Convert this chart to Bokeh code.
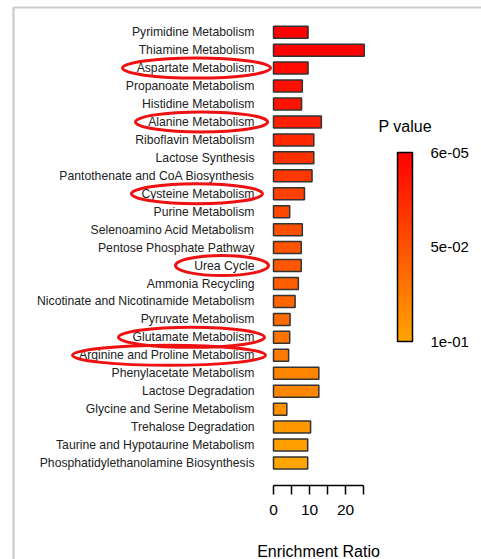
from bokeh.plotting import figure
from bokeh.models import (Range1d, FixedTicker, ColumnDataSource, LinearColorMapper,
                          ColorBar, BoxAnnotation, Label)
from bokeh.transform import transform
from bokeh.core.properties import value
from bokeh.embed import file_html
from bokeh.resources import INLINE

# ---------------- data ----------------
pathways = [
    "Pyrimidine Metabolism", "Thiamine Metabolism", "Aspartate Metabolism",
    "Propanoate Metabolism", "Histidine Metabolism", "Alanine Metabolism",
    "Riboflavin Metabolism", "Lactose Synthesis", "Pantothenate and CoA Biosynthesis",
    "Cysteine Metabolism", "Purine Metabolism", "Selenoamino Acid Metabolism",
    "Pentose Phosphate Pathway", "Urea Cycle", "Ammonia Recycling",
    "Nicotinate and Nicotinamide Metabolism", "Pyruvate Metabolism",
    "Glutamate Metabolism", "Arginine and Proline Metabolism",
    "Phenylacetate Metabolism", "Lactose Degradation", "Glycine and Serine Metabolism",
    "Trehalose Degradation", "Taurine and Hypotaurine Metabolism",
    "Phosphatidylethanolamine Biosynthesis",
]
enrichment = [9.6, 25.2, 9.6, 8.0, 7.8, 13.3, 11.2, 11.2, 10.7, 8.6, 4.5, 8.0, 7.7,
              7.7, 6.9, 6.0, 4.6, 4.5, 4.2, 12.6, 12.6, 3.7, 10.3, 9.5, 9.5]
p_values = [0.00006, 0.001, 0.006, 0.0097, 0.012, 0.019, 0.024, 0.029, 0.034, 0.039,
            0.044, 0.048, 0.051, 0.053, 0.057, 0.061, 0.065, 0.070, 0.074, 0.080,
            0.082, 0.087, 0.092, 0.096, 0.1]
highlighted = ["Aspartate Metabolism", "Alanine Metabolism", "Cysteine Metabolism",
               "Urea Cycle", "Glutamate Metabolism", "Arginine and Proline Metabolism"]
x_ticks = [0, 10, 20]
x_minor_ticks = [5, 15, 25]
x_bounds = (0, 25)
legend_ticks = [0.00006, 0.05, 0.1]
legend_labels = ["6e-05", "5e-02", "1e-01"]
p_low, p_high = 0.00006, 0.1

# ---------------- layout constants (pixels) ----------------
W, H = 481, 559
PX = 3.6          # pixels per enrichment unit
X0 = 273          # canvas x of zero
AXIS_Y = 485      # canvas y of x-axis line
ROW0 = 31.7       # canvas y of first row center
ROW_H = 17.95     # row spacing
ELLIPSE_SPANS = {  # (left, right) canvas px of highlight ellipses
    "Aspartate Metabolism": (122, 270),
    "Alanine Metabolism": (135, 267),
    "Cysteine Metabolism": (131, 262),
    "Urea Cycle": (175, 268),
    "Glutamate Metabolism": (118, 264),
    "Arginine and Proline Metabolism": (72, 265),
}

def px_x(px):
    return (px - X0) / PX

def px_y(py):
    return (py - ROW0) / ROW_H

rows = list(range(len(pathways)))
src = ColumnDataSource(dict(name=pathways, row=rows, ratio=enrichment, p=p_values))

def lerp_hex(c1, c2, t):
    r = round(c1[0] + (c2[0] - c1[0]) * t)
    g = round(c1[1] + (c2[1] - c1[1]) * t)
    b = round(c1[2] + (c2[2] - c1[2]) * t)
    return "#%02x%02x%02x" % (r, g, b)

# palette orange -> red (palette[0] at low end of mapper = 1e-01)
palette = [lerp_hex((255, 165, 0), (255, 0, 0), i / 255) for i in range(256)]
mapper = LinearColorMapper(palette=palette, low=p_high, high=p_low)

p = figure(width=W, height=H, output_backend="svg", toolbar_location=None,
           x_range=Range1d(px_x(0), px_x(W)),
           y_range=Range1d(px_y(H), px_y(0)),
           y_axis_location=None,
           min_border_left=0, min_border_right=0, min_border_top=0,
           min_border_bottom=0)
p.xgrid.visible = False
p.ygrid.visible = False
p.outline_line_color = None
p.background_fill_color = "white"
p.border_fill_color = "white"

FONT = "Liberation Sans"

# outer frame lines (image border)
p.add_layout(BoxAnnotation(left=px_x(13), top=px_y(7), right=px_x(W + 30),
                           bottom=px_y(H + 30),
                           fill_alpha=0, line_color="#555555", line_width=2.2))

# bars
p.hbar(y="row", left=0, right="ratio", height=0.67, source=src,
       fill_color=transform("p", mapper), line_color="#333333", line_width=1.5)

# category labels
p.text(x=0, y="row", text="name", source=src, x_offset=-19,
       text_align="right", text_baseline="middle",
       text_font=value(FONT), text_font_size="12.2px", text_color="#222222")

# highlight ellipses
hx, hy, hw = [], [], []
for name in highlighted:
    l, r = ELLIPSE_SPANS[name]
    hx.append(px_x((l + r) / 2))
    hy.append(pathways.index(name))
    hw.append(r - l)
p.ellipse(x=hx, y=hy, width=hw, height=20, width_units="screen", height_units="screen",
          fill_color=None, line_color="#ee1111", line_width=3)

# x axis (fixed inside the frame, limited to its bounds)
ax = p.xaxis[0]
ax.fixed_location = px_y(AXIS_Y)
ax.bounds = x_bounds
ax.ticker = FixedTicker(ticks=x_ticks, minor_ticks=x_minor_ticks)
ax.major_tick_in = 0
ax.major_tick_out = 9
ax.minor_tick_in = 0
ax.minor_tick_out = 9
ax.minor_tick_line_color = "black"
ax.major_tick_line_color = "black"
ax.axis_line_color = "black"
ax.axis_line_width = 1.5
ax.major_tick_line_width = 1.5
ax.minor_tick_line_width = 1.5
ax.major_label_text_font = FONT
ax.major_label_text_font_size = "15.5px"
ax.major_label_text_color = "black"
ax.major_label_standoff = 10

p.add_layout(Label(x=sum(x_bounds) / 2, y=px_y(551), text="Enrichment Ratio",
                   text_align="center", text_baseline="middle",
                   text_font=FONT, text_font_size="16px", text_color="black"))

# colour legend
cb = ColorBar(color_mapper=mapper, location=(397, H - 341), width=15, height=189,
              padding=0, ticker=FixedTicker(ticks=legend_ticks),
              major_label_overrides=dict(zip(legend_ticks, legend_labels)),
              major_tick_line_color=None, minor_tick_line_color=None,
              major_label_text_font=FONT, major_label_text_font_size="15px",
              major_label_text_color="black", label_standoff=18,
              bar_line_color="black", bar_line_width=1.5,
              background_fill_color=None, border_line_color=None)
p.add_layout(cb, "center")

p.add_layout(Label(x=px_x(378), y=px_y(126), text="P value", text_baseline="middle",
                   text_font=FONT, text_font_size="16px", text_color="black"))

open("out.html", "w").write(file_html(p, INLINE))
